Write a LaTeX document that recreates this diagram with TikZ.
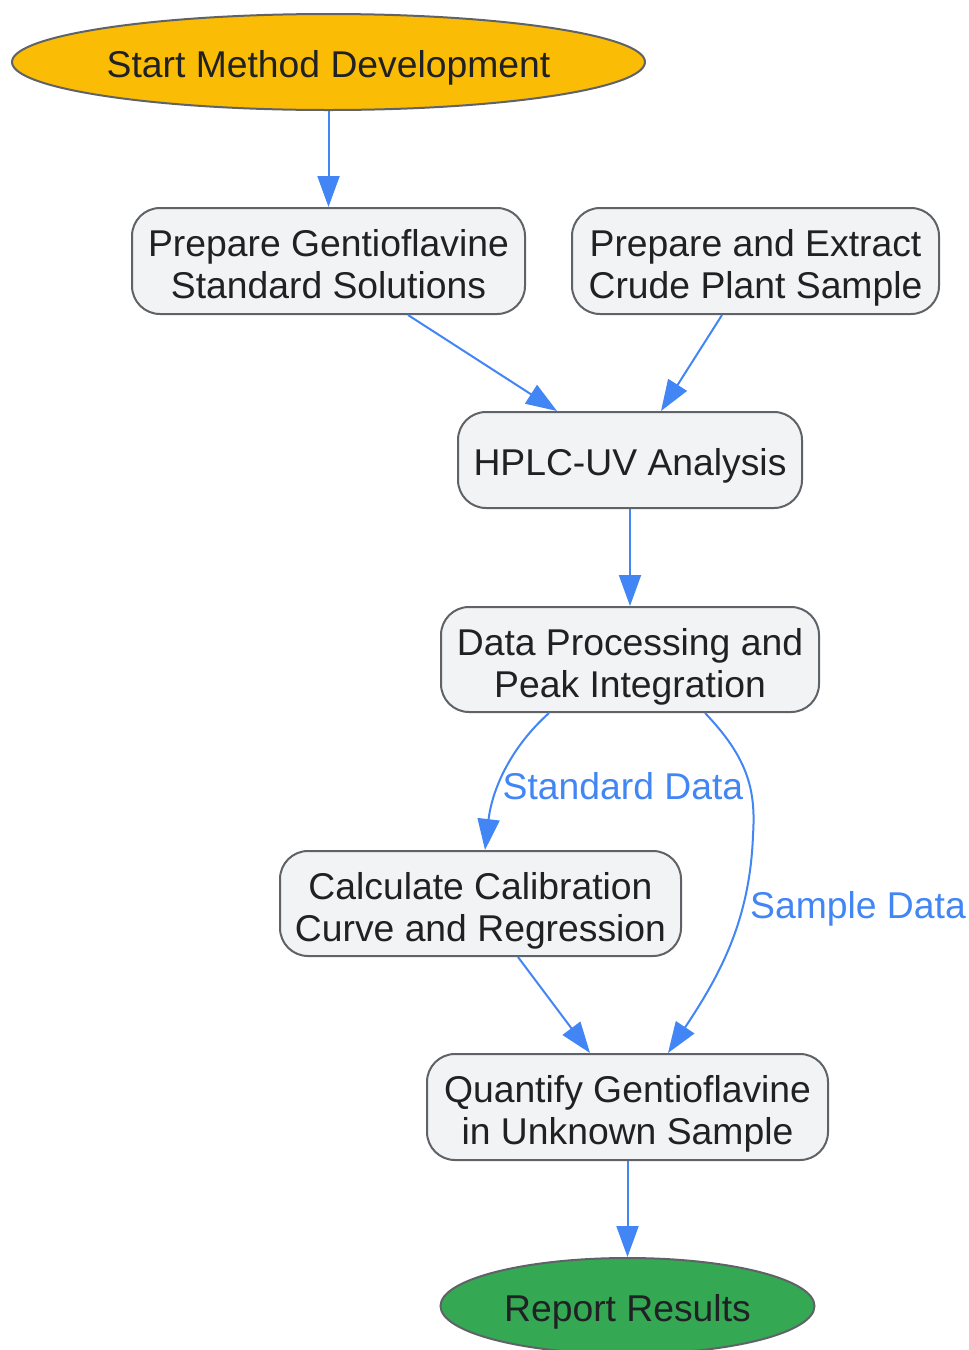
\documentclass[tikz,border=0pt]{standalone}
\usepackage{fontspec}
\setmainfont{Liberation Sans}
\usetikzlibrary{arrows.meta,shapes.geometric}
\definecolor{startfill}{HTML}{FBBC05}
\definecolor{endfill}{HTML}{34A853}
\definecolor{boxfill}{HTML}{F1F3F4}
\definecolor{bordergray}{HTML}{5F6368}
\definecolor{textdark}{HTML}{202124}
\definecolor{arrowblue}{HTML}{4285F4}
\begin{document}
\begin{tikzpicture}[x=1pt,y=-1pt,
  txt/.style={font=\fontsize{37.3}{42}\selectfont, text height=30pt, text depth=0pt},
  box/.style={txt, draw=bordergray, line width=2pt, fill=boxfill, rounded corners=28pt,
    align=center, text=textdark, inner sep=0pt},
  twoline/.style={text height=75pt},
  oval/.style={txt, ellipse, draw=bordergray, line width=2pt, text=textdark, inner sep=0pt},
  arr/.style={draw=arrowblue, line width=2pt, -{Triangle[length=31pt,width=22pt]}},
  elabel/.style={font=\fontsize{37.3}{42}\selectfont, text height=33pt, text=arrowblue, inner sep=0pt}]
\useasboundingbox (0,0) rectangle (969,1350);
\node[oval, fill=startfill, minimum width=633pt, minimum height=96pt] (start) at (328.5,62) {Start Method Development};
\node[box, twoline, minimum width=393pt, minimum height=106pt] (std) at (328.5,261) {Prepare Gentioflavine\\Standard Solutions};
\node[box, twoline, minimum width=367pt, minimum height=106pt] (crude) at (755.5,261) {Prepare and Extract\\Crude Plant Sample};
\node[box, minimum width=344pt, minimum height=96pt] (hplc) at (630,460) {HPLC-UV Analysis};
\node[box, twoline, minimum width=378pt, minimum height=105pt] (proc) at (630,659.5) {Data Processing and\\Peak Integration};
\node[box, twoline, minimum width=401pt, minimum height=105pt] (calib) at (480.5,903.5) {Calculate Calibration\\Curve and Regression};
\node[box, twoline, minimum width=401pt, minimum height=106pt] (quant) at (627.5,1107) {Quantify Gentioflavine\\in Unknown Sample};
\node[oval, fill=endfill, minimum width=374pt, minimum height=96pt] (report) at (627.5,1306) {Report Results};

\draw[arr] (start.south) -- (std.north);
\draw[arr] ([xshift=79.5pt]std.south) -- ([xshift=-73pt]hplc.north);
\draw[arr] ([xshift=-33.5pt]crude.south) -- ([xshift=31pt]hplc.north);
\draw[arr] (hplc.south) -- (proc.north);
\draw[arr] ([xshift=-81pt]proc.south) .. controls (510,748) and (492,790) .. ([xshift=4.5pt]calib.north);
\draw[arr] ([xshift=75pt]proc.south) .. controls (748,758) and (756,790) .. (753,835)
   .. controls (750,920) and (720,975) .. ([xshift=40.5pt]quant.north);
\draw[arr] ([xshift=37.5pt]calib.south) -- ([xshift=-37.5pt]quant.north);
\draw[arr] (quant.south) -- (report.north);
\node[elabel] (lstd) at (623,783) {Standard Data};
\node[elabel] (lsmp) at (858,906) {Sample Data};
\end{tikzpicture}
\end{document}
